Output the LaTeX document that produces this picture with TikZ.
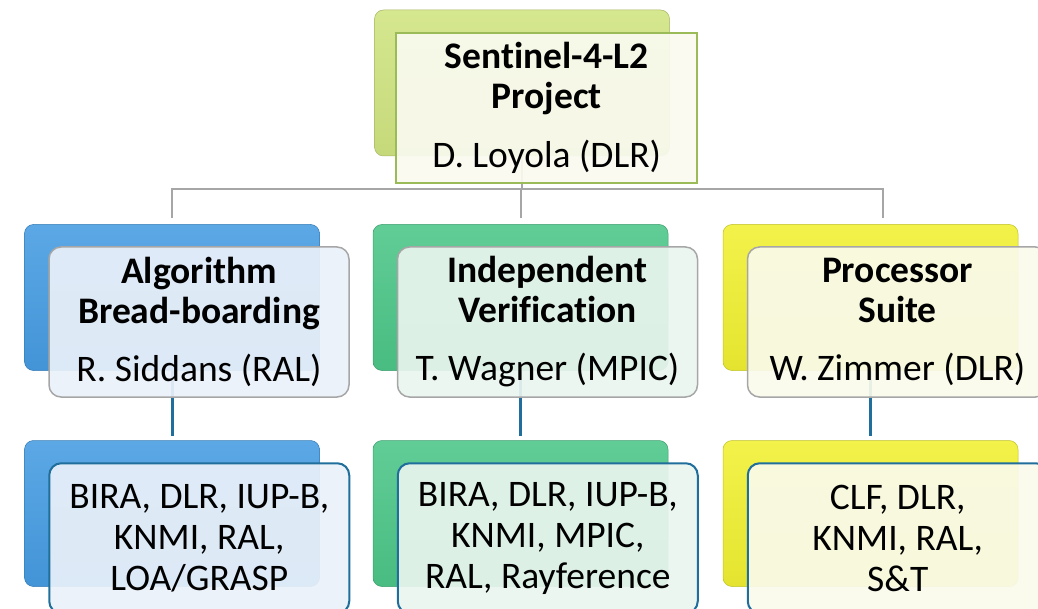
\documentclass[tikz,border=0pt]{standalone}
\usepackage{fontspec}
\setmainfont{Carlito}[Ligatures=NoCommon]
\usepackage{tikz}
\usetikzlibrary{positioning}

\definecolor{s4lime}{RGB}{208,228,128}
\definecolor{s4blue}{RGB}{70,156,226}
\definecolor{s4green}{RGB}{76,198,136}
\definecolor{s4yellow}{RGB}{240,240,50}
\definecolor{s4olive}{RGB}{155,187,89}
\definecolor{s4teal}{RGB}{31,110,155}
\definecolor{s4grey}{RGB}{166,166,166}
\definecolor{s4paletop}{RGB}{250,250,240}
\definecolor{s4paleblue}{RGB}{234,241,249}
\definecolor{s4palegreen}{RGB}{234,245,239}
\definecolor{s4paleyellow}{RGB}{250,250,236}

\tikzset{
	backbox/.style={rectangle, rounded corners=9pt, minimum width=295pt, minimum height=146pt, inner sep=0pt, draw=#1!80!black, line width=0.5pt, top color=#1!88!white, bottom color=#1!95!black},
	frontbox/.style={rectangle, rounded corners=12pt, minimum width=300pt, minimum height=150pt, inner sep=0pt, anchor=north west, fill=#1, fill opacity=0.92, text opacity=1, draw=s4grey, line width=1.5pt, align=center, font=\fontsize{37.5}{40}\selectfont},
	teambox/.style={frontbox=#1, draw=s4teal, line width=2pt, font=\fontsize{37.5}{41}\selectfont},
	orgline/.style={draw=s4grey, line width=2pt},
	teamline/.style={draw=s4teal, line width=3pt, shorten >=4pt}
}

\begin{document}
\begin{tikzpicture}[x=1pt, y=-1pt]
		%%%%% START %%%%%
		\useasboundingbox (0,0) rectangle (1038,609);
		\clip (0,0) rectangle (1038,609);
		
		% shadow boxes
		\node[backbox=s4lime] (topB) at (522,83) {};
		\node[backbox=s4blue] (algB) at (172,297.5) {};
		\node[backbox=s4green] (verB) at (520.5,297.5) {};
		\node[backbox=s4yellow] (procB) at (870.5,297.5) {};
		\node[backbox=s4blue] (algTeamB) at (172,513.5) {};
		\node[backbox=s4green] (verTeamB) at (520.5,513.5) {};
		\node[backbox=s4yellow] (procTeamB) at (870.5,513.5) {};
		
		% connectors
		\coordinate (bus) at ([shift={(0,33)}]topB.south);
		\draw[orgline] (topB.south) -- (bus);
		\draw[orgline, shorten <=6pt] (algB.north) |- (bus);
		\draw[orgline, shorten <=6pt] (verB.north) -- (verB.north |- bus);
		\draw[orgline, shorten <=6pt] ([shift={(12.5,0)}]procB.north) |- (bus);
		
		\draw[teamline] (algB.south) -- (algTeamB.north);
		\draw[teamline] (verB.south) -- (verTeamB.north);
		\draw[teamline] (procB.south) -- (procTeamB.north);
		
		% front boxes
		\node[frontbox=s4paletop, rounded corners=0pt, draw=s4olive, line width=2pt, minimum width=301pt] (top) at ([shift={(21,22)}]topB.north west) {\textbf{Sentinel-4-L2}\\\textbf{Project}\\[19pt]D. Loyola (DLR)};
		
		\node[frontbox=s4paleblue] (alg) at ([shift={(24,22)}]algB.north west) {\textbf{Algorithm}\\\textbf{Bread-boarding}\\[18pt]R. Siddans (RAL)};
		\node[frontbox=s4palegreen] (ver) at ([shift={(24,22)}]verB.north west) {\textbf{Independent}\\\textbf{Verification}\\[18pt]T. Wagner (MPIC)};
		\node[frontbox=s4paleyellow] (proc) at ([shift={(24,22)}]procB.north west) {\textbf{Processor}\\\textbf{Suite}\\[18pt]W. Zimmer (DLR)};
		
		\node[teambox=s4paleblue] (algTeam) at ([shift={(24,22)}]algTeamB.north west) {BIRA, DLR, IUP-B,\\KNMI, RAL,\\LOA/GRASP};
		\node[teambox=s4palegreen] (verTeam) at ([shift={(24,22)}]verTeamB.north west) {BIRA, DLR, IUP-B,\\KNMI, MPIC,\\RAL, Rayference};
		\node[teambox=s4paleyellow] (procTeam) at ([shift={(24,22)}]procTeamB.north west) {CLF, DLR,\\KNMI, RAL,\\S\&T};
		
		%%%%% END %%%%%
\end{tikzpicture}
\end{document}
